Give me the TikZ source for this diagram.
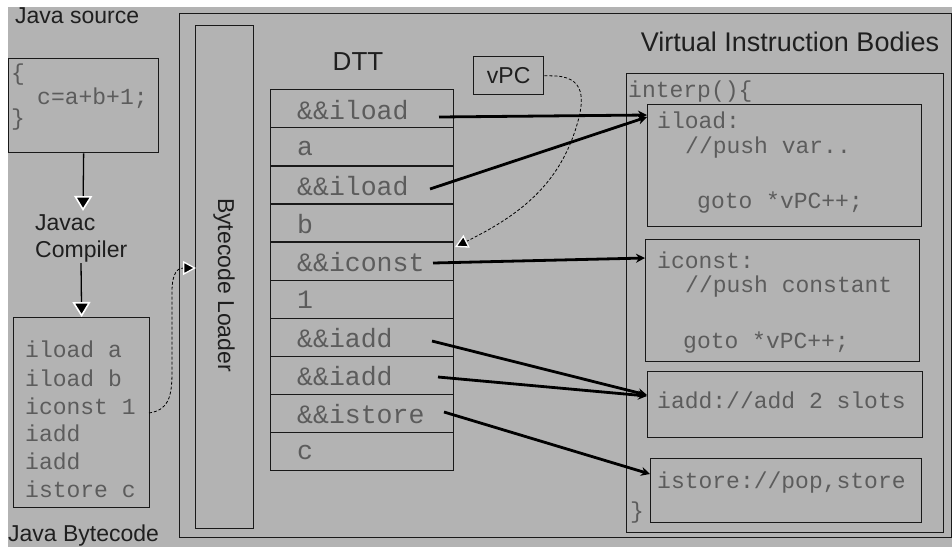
\documentclass[tikz,border=0pt]{standalone}
\usepackage{fontspec}
\setmainfont{Liberation Sans}
\newfontfamily\monof{Liberation Mono}
\usetikzlibrary{arrows.meta}
\definecolor{bggray}{RGB}{179,179,179}
\definecolor{codegray}{RGB}{92,92,92}
\definecolor{linecol}{RGB}{25,25,25}
\tikzset{
  box/.style={draw=linecol, line width=1.3pt, fill=none, inner sep=0pt, anchor=north west},
  sanslbl/.style={font=\fontsize{23}{27}\selectfont, text=black!88, inner sep=0pt},
  code/.style={font=\monof\fontsize{23}{27}\selectfont, text=codegray, inner sep=0pt, anchor=west},
  bigcode/.style={font=\monof\fontsize{26.5}{30}\selectfont, text=codegray, inner sep=0pt, anchor=west},
  cell/.style={draw=linecol, line width=1.3pt, minimum width=183pt, minimum height=38.1pt, inner sep=0pt, anchor=north west},
  flowarrow/.style={draw=black, line width=1.3pt, -{Triangle[length=15pt,width=18pt,color=white,fill=black,line width=1.6pt]}},
  ptrarrow/.style={draw=black, line width=2.8pt, -{Stealth[length=9pt,width=9pt]}},
  thinarrow/.style={draw=black, line width=0.8pt, densely dashed, -{Triangle[length=13pt,width=14pt,color=white,fill=black,line width=1.3pt]}},
}
\begin{document}
\begin{tikzpicture}[x=1pt,y=-1pt]
\useasboundingbox (0,0) rectangle (952,547);
\fill[white] (0,0) rectangle (952,547);
\fill[bggray] (8,7) rectangle (952,547);

% left column
\node[sanslbl, anchor=west] (jsrc) at (15,16) {Java source};
\node[box, minimum width=150pt, minimum height=94pt] (src) at (8,58) {};
\node[code] (ob) at (11,75) {\{};
\node[code] (expr) at (37,98) {c=a+b+1;};
\node[code] (cb) at (11,120) {\}};

\node[sanslbl, anchor=west, align=left] (javac) at (35,238) {Javac\\Compiler};
\coordinate (a1end) at (83,211);
\coordinate (a2start) at (81,263);
\draw[flowarrow] (src.south) -- (a1end);

\node[box, minimum width=136pt, minimum height=190pt] (bc) at (13,317) {};
\draw[flowarrow] (a2start) -- (bc.north);
\node[code] (b1) at (25,349) {iload a};
\node[code] (b2) at (25,378) {iload b};
\node[code] (b3) at (25,406) {iconst 1};
\node[code] (b4) at (25,433) {iadd};
\node[code] (b5) at (25,461) {iadd};
\node[code] (b6) at (25,489) {istore c};
\node[sanslbl, anchor=west] (jbc) at (8,536) {Java Bytecode};

% outer frame
\node[box, minimum width=772pt, minimum height=524pt] (outer) at (179,13) {};
\node[box, minimum width=58pt, minimum height=503pt] (loader) at (195,25) {};
\node[sanslbl, rotate=-90] (loadlbl) at (224,285) {Bytecode Loader};

\coordinate (bcout) at (149,413);
\coordinate (ldin) at (196,268);
\draw[thinarrow] (bcout) .. controls (168,410) and (172,398) .. (172,372) -- (172,292) .. controls (172,272) and (178,268) .. (ldin);

% DTT
\node[sanslbl] (dtt) at (358,62) {\fontsize{26}{30}\selectfont DTT};
\node[cell] (r1) at (270,89) {};
\node[cell] (r2) at (270,127.1) {};
\node[cell] (r3) at (270,165.2) {};
\node[cell] (r4) at (270,203.3) {};
\node[cell] (r5) at (270,241.4) {};
\node[cell] (r6) at (270,279.5) {};
\node[cell] (r7) at (270,317.6) {};
\node[cell] (r8) at (270,355.7) {};
\node[cell] (r9) at (270,393.8) {};
\node[cell] (r10) at (270,431.9) {};
\node[bigcode] (t1) at (297,110) {\&\&iload};
\node[bigcode] (t2) at (297,148) {a};
\node[bigcode] (t3) at (297,186) {\&\&iload};
\node[bigcode] (t4) at (297,224) {b};
\node[bigcode] (t5) at (297,262) {\&\&iconst};
\node[bigcode] (t6) at (297,300) {1};
\node[bigcode] (t7) at (297,338) {\&\&iadd};
\node[bigcode] (t8) at (297,376) {\&\&iadd};
\node[bigcode] (t9) at (297,414) {\&\&istore};
\node[bigcode] (t10) at (297,452) {c};

% vPC
\node[box, minimum width=70pt, minimum height=38pt] (vpc) at (473,56) {};
\node[sanslbl] (vpclbl) at (vpc.center) {vPC};
\coordinate (vpcin) at (455,247);
\draw[thinarrow] (vpc.east) -- (556,76) .. controls (590,78) and (582,108) .. (576,128) .. controls (558,185) and (520,215) .. (vpcin);

% right side
\node[sanslbl] (vib) at (790,42) {\fontsize{27}{30}\selectfont Virtual Instruction Bodies};
\node[box, minimum width=317pt, minimum height=459pt] (interp) at (626,73) {};
\node[code] (intxt) at (628,92) {interp()\{};
\node[code] (intend) at (630,513) {\}};

\node[box, minimum width=274pt, minimum height=122pt] (iload) at (647,104) {};
\node[code] (il1) at (657,120) {iload:};
\node[code] (il2) at (685,148) {//push var..};
\node[code] (il3) at (697,203) {goto *vPC++;};

\node[box, minimum width=274pt, minimum height=122pt] (iconst) at (645,239) {};
\node[code] (ic1) at (657,260) {iconst:};
\node[code] (ic2) at (685,287) {//push constant};
\node[code] (ic3) at (683,343) {goto *vPC++;};

\node[box, minimum width=275pt, minimum height=66pt] (iadd) at (647,371) {};
\node[code] (ia1) at (657,400) {iadd://add 2 slots};

\node[box, minimum width=271pt, minimum height=64pt] (istore) at (650,458) {};
\node[code] (is1) at (657,483) {istore://pop,store};

% pointer arrows
\coordinate (p1) at (439,117);
\coordinate (p3) at (430,189);
\coordinate (p5) at (433,263);
\coordinate (p7) at (432,341);
\coordinate (p8) at (438,377);
\coordinate (p9) at (444,412);
\draw[ptrarrow] (p1) -- (iload.north west |- 0,115);
\draw[ptrarrow] (p3) -- ([yshift=-13pt]iload.north west);
\draw[ptrarrow] (p5) -- (iconst.west |- 0,258);
\draw[ptrarrow] (p7) -- ([yshift=-24pt]iadd.north west);
\draw[ptrarrow] (p8) -- ([yshift=-25pt]iadd.north west);
\draw[ptrarrow] (p9) -- ([yshift=-16pt]istore.north west);
\end{tikzpicture}
\end{document}
